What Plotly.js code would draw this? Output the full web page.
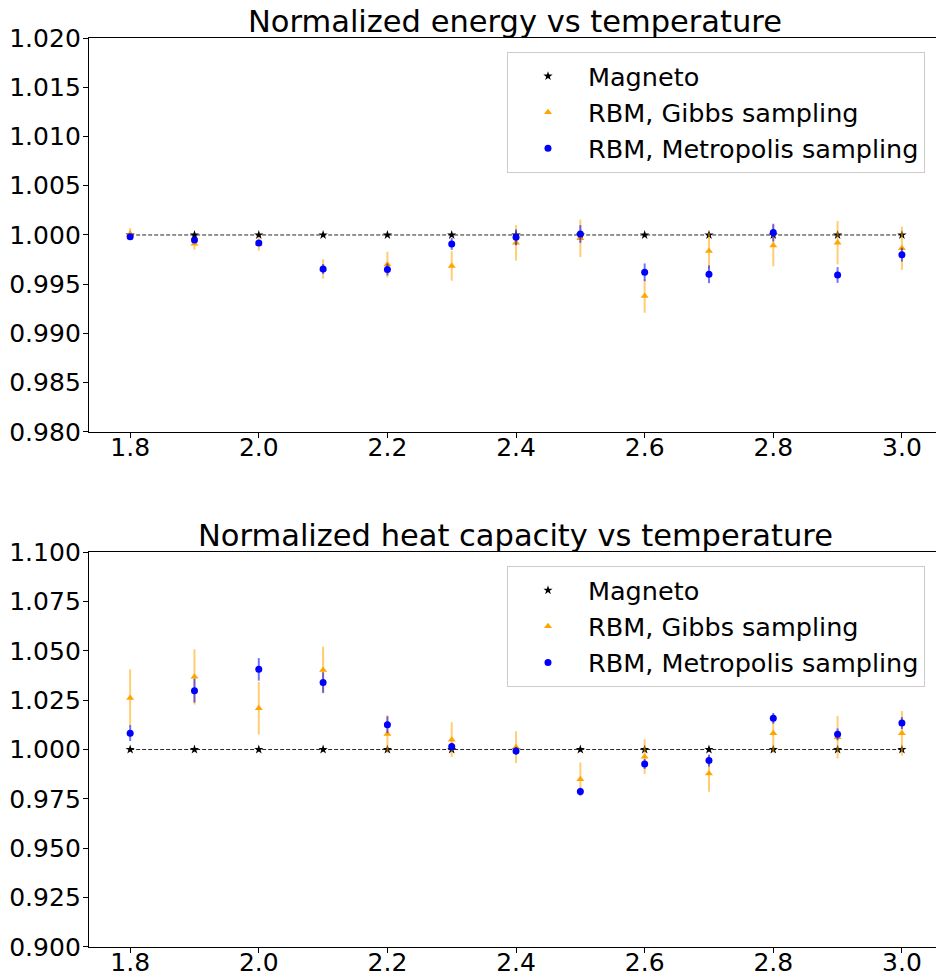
<!DOCTYPE html>
<html><head><meta charset="utf-8">
<script src="https://cdn.plot.ly/plotly-3.0.1.min.js"></script>
<style>html,body{margin:0;padding:0;background:#fff;overflow:hidden}#chart{width:937px;height:979px}</style>
</head><body><div id="chart"></div>
<script>
const temperature = [1.8, 1.9, 2.0, 2.1, 2.2, 2.3, 2.4, 2.5, 2.6, 2.7, 2.8, 2.9, 3.0];
const magnetoEnergy = [1, 1, 1, 1, 1, 1, 1, 1, 1, 1, 1, 1, 1];
const gibbsEnergy = [1.0001, 0.9991, 0.9991, 0.99655, 0.9970, 0.99685, 0.9992, 0.99966, 0.99381, 0.99838, 0.99892, 0.99922, 0.99865];
const gibbsEnergyErr = [0.0006, 0.0006, 0.0007, 0.001, 0.0013, 0.0015, 0.0018, 0.0019, 0.0017, 0.0018, 0.0021, 0.0022, 0.0022];
const metroEnergy = [0.99983, 0.9995, 0.99919, 0.99655, 0.9965, 0.99909, 0.99976, 1.0001, 0.99621, 0.99601, 1.00024, 0.99594, 0.998];
const metroEnergyErr = [0.0002, 0.0003, 0.0003, 0.0005, 0.0006, 0.0006, 0.0008, 0.0009, 0.0009, 0.0009, 0.0009, 0.0008, 0.0007];
const magnetoHeat = [1, 1, 1, 1, 1, 1, 1, 1, 1, 1, 1, 1, 1];
const gibbsHeat = [1.0261, 1.0368, 1.0209, 1.0403, 1.0079, 1.005, 1.0012, 0.9849, 0.9964, 0.9879, 1.0082, 1.0062, 1.0082];
const gibbsHeatErr = [0.0145, 0.014, 0.0133, 0.0118, 0.0095, 0.0088, 0.008, 0.0085, 0.0088, 0.0093, 0.0097, 0.0107, 0.0113];
const metroHeat = [1.0083, 1.0298, 1.0406, 1.0339, 1.0126, 1.0015, 0.9993, 0.9787, 0.9927, 0.9944, 1.0158, 1.0077, 1.0134];
const metroHeatErr = [0.004, 0.006, 0.0057, 0.0052, 0.0042, 0.002, 0.002, 0.002, 0.0025, 0.003, 0.0027, 0.003, 0.003];
const seriesNames = ['Magneto', 'RBM, Gibbs sampling', 'RBM, Metropolis sampling'];
const titles = ['Normalized energy vs temperature', 'Normalized heat capacity vs temperature'];

function panel(xa, ya, leg, mag, gib, gibErr, met, metErr) {
  return [
    {x: temperature, y: mag, xaxis: xa, yaxis: ya, mode: 'lines', showlegend: false,
     line: {color: 'rgba(0,0,0,0.85)', width: 1, dash: '4px,2px'}, hoverinfo: 'skip'},
    {x: temperature, y: mag, xaxis: xa, yaxis: ya, mode: 'markers', name: seriesNames[0], legend: leg,
     marker: {symbol: 'star', size: 7, color: 'black'}},
    {x: temperature, y: gib, xaxis: xa, yaxis: ya, mode: 'markers', name: seriesNames[1], legend: leg,
     marker: {symbol: 'triangle-up', size: 7, color: 'orange'},
     error_y: {type: 'data', array: gibErr, visible: true, color: 'rgba(255,165,0,0.55)', thickness: 2, width: 0}},
    {x: temperature, y: met, xaxis: xa, yaxis: ya, mode: 'markers', name: seriesNames[2], legend: leg,
     marker: {symbol: 'circle', size: 7, color: 'blue'},
     error_y: {type: 'data', array: metErr, visible: true, color: 'rgba(0,0,255,0.55)', thickness: 2, width: 0}}
  ];
}

const data = [
  ...panel('x', 'y', 'legend', magnetoEnergy, gibbsEnergy, gibbsEnergyErr, metroEnergy, metroEnergyErr),
  ...panel('x2', 'y2', 'legend2', magnetoHeat, gibbsHeat, gibbsHeatErr, metroHeat, metroHeatErr)
];

const fnt = {family: 'DejaVu Sans', size: 25, color: 'black'};
const xax = (anchor) => ({
  anchor: anchor, range: [1.736, 3.053], tickvals: temperature.filter((t, i) => i % 2 === 0),
  tickformat: '.1f', ticks: 'outside', ticklen: 5, tickcolor: 'black', showline: true, mirror: true,
  linecolor: 'black', linewidth: 1.2, showgrid: false, zeroline: false, tickfont: fnt, ticklabelstandoff: -12
});
const yax = (anchor, dom, rng, dt) => ({
  anchor: anchor, domain: dom, range: rng, dtick: dt, tick0: rng[0], tickformat: '.3f',
  ticks: 'outside', ticklen: 5, tickcolor: 'black', showline: true, linecolor: 'black', linewidth: 1.2,
  showgrid: false, zeroline: false, tickfont: fnt, ticklabelstandoff: -3
});
const legBox = (y) => ({
  x: 0.4935, y: y, xanchor: 'left', yanchor: 'top', font: {family: 'DejaVu Sans', size: 25.5, color: 'black'},
  bgcolor: 'rgba(255,255,255,0.8)', bordercolor: '#cccccc', borderwidth: 1, itemwidth: 70
});

const layout = {
  width: 937, height: 979, paper_bgcolor: 'white', plot_bgcolor: 'white',
  margin: {l: 89, r: 1, t: 38, b: 32}, font: fnt, showlegend: true,
  xaxis: xax('y'), yaxis: yax('x', [0.5666, 1], [0.98, 1.02], 0.005),
  xaxis2: xax('y2'), yaxis2: yax('x2', [0, 0.4345], [0.9, 1.1], 0.025),
  legend: legBox(0.9846), legend2: legBox(0.419),
  annotations: [
    {text: titles[0], xref: 'paper', yref: 'paper', x: 0.503, y: 1, xanchor: 'center', yanchor: 'bottom', yshift: -3, showarrow: false, font: {family: 'DejaVu Sans', size: 30.5, color: 'black'}},
    {text: titles[1], xref: 'paper', yref: 'paper', x: 0.503, y: 0.4345, xanchor: 'center', yanchor: 'bottom', yshift: -3, showarrow: false, font: {family: 'DejaVu Sans', size: 30.5, color: 'black'}}
  ]
};
Plotly.newPlot('chart', data, layout, {displayModeBar: false, staticPlot: true});
</script></body></html>
